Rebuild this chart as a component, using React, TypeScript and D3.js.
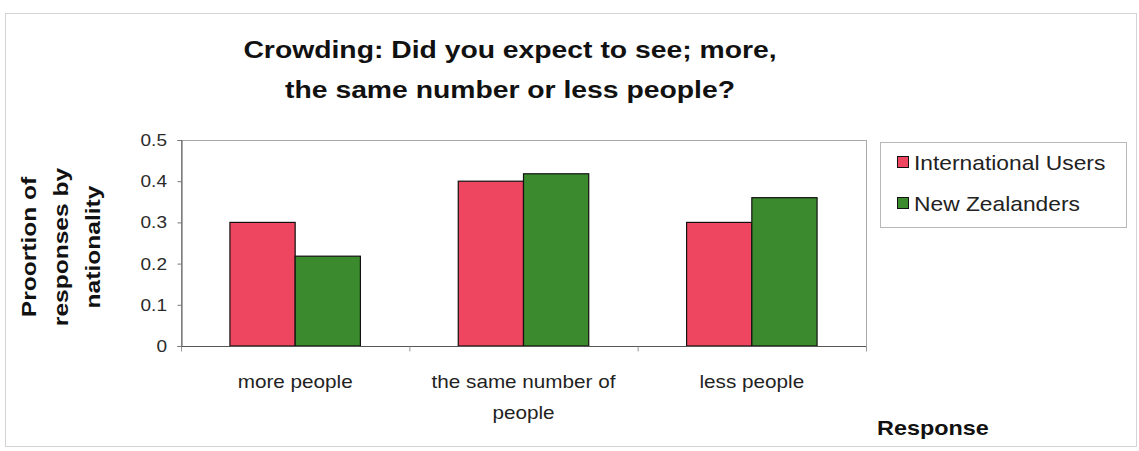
import React, { useEffect, useRef } from "react";
import * as d3 from "d3";

const categories = [["more people"], ["the same number of", "people"], ["less people"]];
const categoryKeys = ["more people", "the same number of people", "less people"];
const seriesNames = ["International Users", "New Zealanders"];
const internationalUsers = [0.3, 0.4, 0.3];
const newZealanders = [0.218, 0.418, 0.36];
const yTicks = [0, 0.1, 0.2, 0.3, 0.4, 0.5];
const titleLines = ["Crowding: Did you expect to see; more,", "the same number or less people?"];
const yTitleLines = ["Proortion of", "responses by", "nationality"];
const xTitle = "Response";

const W = 1139;
const H = 451;
const COLORS = ["#EE4660", "#3B8A2D"];

export default function App() {
  const ref = useRef<SVGSVGElement>(null);

  useEffect(() => {
    const svg = d3.select(ref.current);
    svg.selectAll("*").remove();
    const font = "Arial, 'Liberation Sans', Helvetica, sans-serif";

    const left = 181, right = 866, top = 140, bottom = 346;

    const txt = (
      x: number, y: number, s: string,
      o: { size: number; bold?: boolean; anchor?: string; sx?: number; rot?: number; fill?: string; ls?: number }
    ) => {
      const sx = o.sx ?? 1.15;
      svg.append("text")
        .attr("transform", `translate(${x},${y}) rotate(${o.rot ?? 0}) scale(${sx},1)`)
        .attr("text-anchor", o.anchor ?? "start")
        .attr("font-family", font).attr("font-size", o.size)
        .attr("font-weight", o.bold ? "bold" : "normal")
        .attr("letter-spacing", o.ls ?? 0)
        .attr("fill", o.fill ?? "#1a1a1a").text(s);
    };

    // outer chart border
    svg.append("rect").attr("x", 5.5).attr("y", 13.5).attr("width", W - 8).attr("height", H - 18)
      .attr("fill", "#fff").attr("stroke", "#d4d4d4").attr("stroke-width", 1);

    const x0 = d3.scaleBand<string>().domain(categoryKeys).range([left, right]).paddingInner(0).paddingOuter(0);
    const y = d3.scaleLinear().domain([0, 0.5]).range([bottom, top]);
    const gapRatio = 1.5;
    const bw = x0.bandwidth() / (2 + gapRatio);
    const x1 = d3.scaleBand<string>().domain(seriesNames)
      .range([bw * gapRatio / 2, bw * gapRatio / 2 + 2 * bw]);

    // plot area border
    svg.append("rect").attr("x", left + 0.5).attr("y", top + 0.5)
      .attr("width", right - left).attr("height", bottom - top)
      .attr("fill", "none").attr("stroke", "#a8a8a8").attr("stroke-width", 1);

    const series = [internationalUsers, newZealanders];
    series.forEach((vals, si) => {
      svg.append("g").selectAll("rect").data(vals).join("rect")
        .attr("x", (_d, i) => (x0(categoryKeys[i]) as number) + (x1(seriesNames[si]) as number))
        .attr("y", (d) => y(d))
        .attr("width", x1.bandwidth())
        .attr("height", (d) => bottom - y(d))
        .attr("fill", COLORS[si])
        .attr("stroke", "#111").attr("stroke-width", 1.2);
    });

    // y axis
    const yAxis = d3.axisLeft(y).tickValues(yTicks).tickSize(4).tickFormat(() => "");
    const yg = svg.append("g").attr("transform", `translate(${left + 0.5},0)`).call(yAxis);
    yg.select(".domain").attr("stroke", "#555");
    yg.selectAll(".tick line").attr("stroke", "#777");
    yTicks.forEach((t) => {
      txt(167, y(t) + 6, t === 0 ? "0" : d3.format(".1f")(t), { size: 17, anchor: "end", sx: 1.12, fill: "#2a2a2a" });
    });

    // x axis
    const xg = svg.append("g").attr("transform", `translate(0,${bottom + 0.5})`);
    xg.append("line").attr("x1", left).attr("x2", right).attr("y1", 0).attr("y2", 0).attr("stroke", "#555");
    const bounds = [left, ...categoryKeys.map((c) => (x0(c) as number) + x0.bandwidth())];
    xg.selectAll("line.t").data(bounds).join("line").attr("class", "t")
      .attr("x1", (d) => d + 0.5).attr("x2", (d) => d + 0.5).attr("y1", 0).attr("y2", 5).attr("stroke", "#999");

    categories.forEach((lines, i) => {
      const cx = (x0(categoryKeys[i]) as number) + x0.bandwidth() / 2;
      lines.forEach((ln, j) => {
        txt(cx, 388 + j * 31, ln, { size: 18, anchor: "middle", sx: 1.15, fill: "#222" });
      });
    });

    // title
    titleLines.forEach((t, i) => {
      txt(510, 58 + i * 40, t, { size: 24, bold: true, anchor: "middle", sx: 1.18, fill: "#111" });
    });

    // y title
    yTitleLines.forEach((t, i) => {
      txt(36 + i * 32, 247, t, { size: 21, bold: true, anchor: "middle", sx: 1.17, rot: -90, fill: "#111" });
    });

    // x title
    txt(877, 435, xTitle, { size: 20, bold: true, sx: 1.17, fill: "#111" });

    // legend
    svg.append("rect").attr("x", 880.5).attr("y", 142.5).attr("width", 246).attr("height", 85)
      .attr("fill", "#fff").attr("stroke", "#b8b8b8");
    seriesNames.forEach((n, i) => {
      const cy = 162 + i * 41;
      svg.append("rect").attr("x", 897.5).attr("y", cy - 5.5).attr("width", 11).attr("height", 11)
        .attr("fill", COLORS[i]).attr("stroke", "#111");
      txt(914, cy + 7.5, n, { size: 20, sx: 1.14, fill: "#222" });
    });
  }, []);

  return (
    <svg ref={ref} width={W} height={H} style={{ position: "absolute", left: 0, top: 0, background: "#fff" }} />
  );
}
